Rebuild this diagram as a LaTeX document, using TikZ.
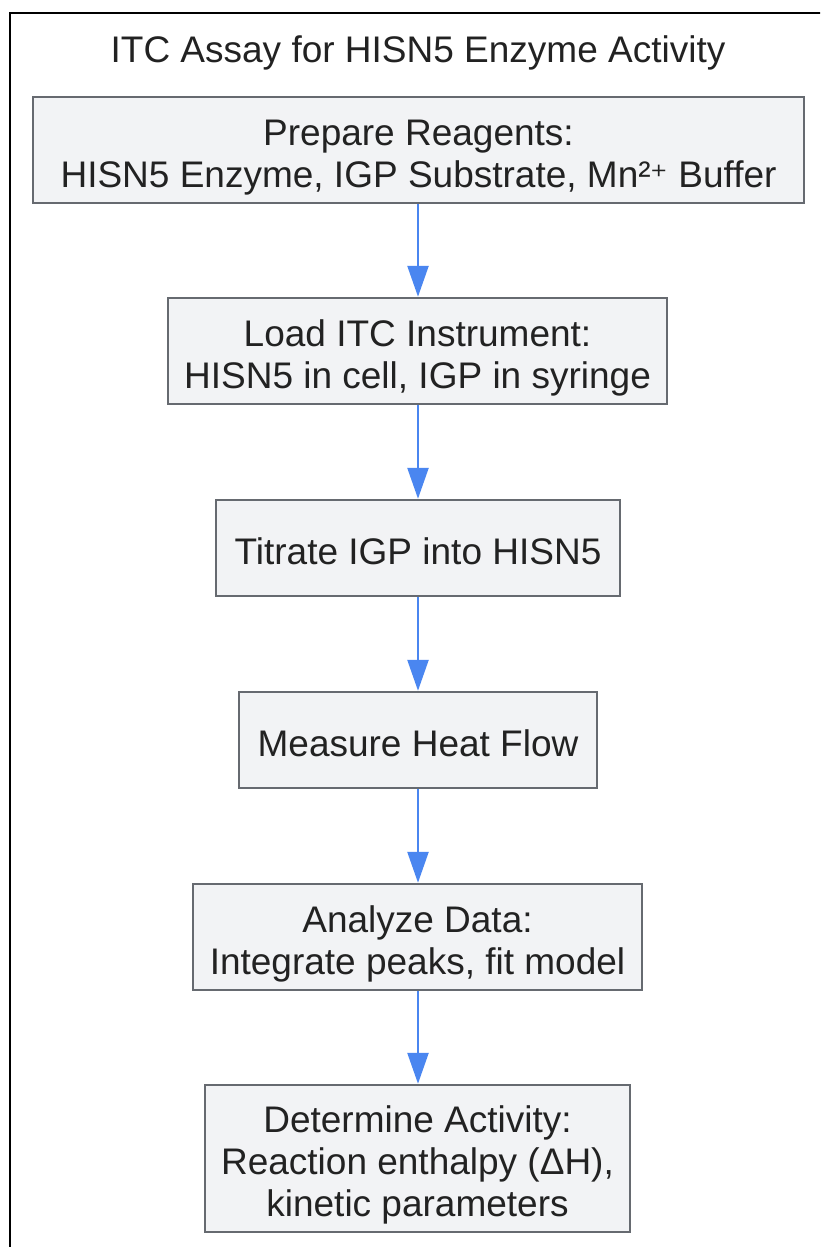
\documentclass[tikz,border=0pt]{standalone}
\usepackage{fontspec}
\setmainfont{Liberation Sans}
\newfontfamily\symfont{DejaVu Sans}
\usetikzlibrary{arrows.meta}
\definecolor{boxfill}{HTML}{F2F3F5}
\definecolor{boxline}{HTML}{666A70}
\definecolor{arrowblue}{HTML}{4A86F0}
\definecolor{txt}{HTML}{222222}
\newcommand\topst{\rule{0pt}{1.09em}}
\newcommand\botst{\rule[-0.22em]{0pt}{0.22em}}
\begin{document}
\begin{tikzpicture}[x=1pt,y=1pt,
  stepbox/.style={draw=boxline,line width=2.5pt,fill=boxfill,text=txt,align=center,
    inner sep=0pt,font=\fontsize{37}{42}\selectfont},
  flow/.style={draw=arrowblue,line width=2.5pt,-{Triangle[length=31pt,width=21pt]}}]
\useasboundingbox (0,0) rectangle (820,-1247);
\clip (0,0) rectangle (820,-1247);
\fill[white] (0,0) rectangle (820,-1247);
\draw[line width=2.5pt,black] (10,-13) rectangle (840,-1270);
\node[text=txt,inner sep=0pt,font=\fontsize{37}{42}\selectfont] (title) at (418,-46) {\topst\botst ITC Assay for HISN5 Enzyme Activity};
\node[stepbox,minimum width=771pt,minimum height=106pt] (b1) at (418.5,-150)
  {\topst Prepare Reagents:\\HISN5 Enzyme, IGP Substrate, Mn²{\symfont\fontsize{33}{42}\selectfont ⁺} Buffer\botst};
\node[stepbox,minimum width=499pt,minimum height=106pt] (b2) at (417.5,-351)
  {\topst Load ITC Instrument:\\HISN5 in cell, IGP in syringe\botst};
\node[stepbox,minimum width=404pt,minimum height=96pt] (b3) at (418,-548)
  {\topst\botst Titrate IGP into HISN5};
\node[stepbox,minimum width=358pt,minimum height=96pt] (b4) at (418,-740)
  {\topst\botst Measure Heat Flow};
\node[stepbox,minimum width=449pt,minimum height=106pt] (b5) at (417.5,-937)
  {\topst Analyze Data:\\Integrate peaks, fit model\botst};
\node[stepbox,minimum width=425pt,minimum height=147pt] (b6) at (417.5,-1158.5)
  {\topst Determine Activity:\\Reaction enthalpy (ΔH),\\kinetic parameters\botst};
\draw[flow] (b1.south -| 418,0) -- (b2.north -| 418,0);
\draw[flow] (b2.south -| 418,0) -- (b3.north -| 418,0);
\draw[flow] (b3.south -| 418,0) -- (b4.north -| 418,0);
\draw[flow] (b4.south -| 418,0) -- (b5.north -| 418,0);
\draw[flow] (b5.south -| 418,0) -- (b6.north -| 418,0);
\end{tikzpicture}
\end{document}
